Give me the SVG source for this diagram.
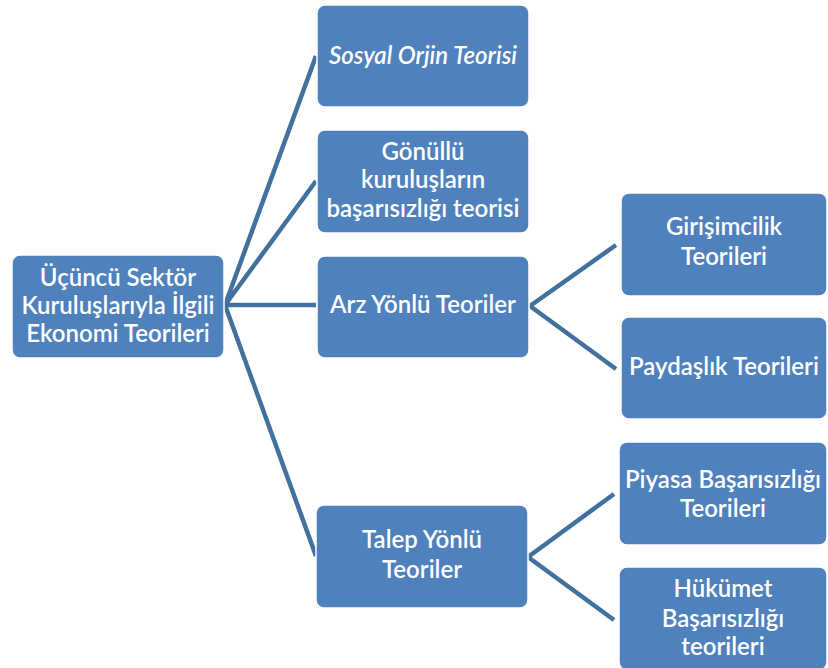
<svg xmlns="http://www.w3.org/2000/svg" width="828" height="668" viewBox="0 0 828 668">
<style>
.box{fill:#4f81bd;stroke:#ffffff;stroke-width:1.5}
.t{font-family:Lato,"Open Sans","Liberation Sans",sans-serif;font-size:24px;font-weight:600;fill:#ffffff;text-anchor:middle}
.c{stroke:#41719c;stroke-width:4.5;fill:none;stroke-linejoin:round}
</style>
<rect width="828" height="668" fill="#ffffff"/>
<g id="connectors">
<path class="c" d="M316,56 L225,305 L316,181 M225,305 L316,305 M225,305 L316,556"/>
<path class="c" d="M616,245 L530,306 L616,369"/>
<path class="c" d="M614,494 L528,557 L614,620"/>
</g>
<g id="root">
<rect class="box" x="12" y="255" width="212" height="103" rx="8"/>
<text class="t" x="118" y="286">Üçüncü Sektör</text>
<text class="t" x="118" y="314">Kuruluşlarıyla İlgili</text>
<text class="t" x="118" y="342">Ekonomi Teorileri</text>
</g>
<g id="sosyal">
<rect class="box" x="317" y="5" width="212" height="102" rx="8"/>
<text class="t" x="423" y="64" font-style="italic">Sosyal Orjin Teorisi</text>
</g>
<g id="gonullu">
<rect class="box" x="317" y="130" width="212" height="103" rx="8"/>
<text class="t" x="423" y="160">Gönüllü</text>
<text class="t" x="423" y="188">kuruluşların</text>
<text class="t" x="423" y="217">başarısızlığı teorisi</text>
</g>
<g id="arz">
<rect class="box" x="317" y="256" width="212" height="102" rx="8"/>
<text class="t" x="423" y="313">Arz Yönlü Teoriler</text>
</g>
<g id="talep">
<rect class="box" x="316" y="505" width="212" height="103" rx="8"/>
<text class="t" x="422" y="548">Talep Yönlü</text>
<text class="t" x="422" y="578">Teoriler</text>
</g>
<g id="girisimcilik">
<rect class="box" x="621" y="193" width="206" height="103" rx="8"/>
<text class="t" x="724" y="235">Girişimcilik</text>
<text class="t" x="724" y="265">Teorileri</text>
</g>
<g id="paydaslik">
<rect class="box" x="621" y="317" width="206" height="102" rx="8"/>
<text class="t" x="724" y="375">Paydaşlık Teorileri</text>
</g>
<g id="piyasa">
<rect class="box" x="619" y="442" width="208" height="103" rx="8"/>
<text class="t" x="723" y="488">Piyasa Başarısızlığı</text>
<text class="t" x="723" y="517">Teorileri</text>
</g>
<g id="hukumet">
<rect class="box" x="619" y="567" width="208" height="103" rx="8"/>
<text class="t" x="723" y="597">Hükümet</text>
<text class="t" x="723" y="627">Başarısızlığı</text>
<text class="t" x="723" y="655">teorileri</text>
</g>
</svg>
